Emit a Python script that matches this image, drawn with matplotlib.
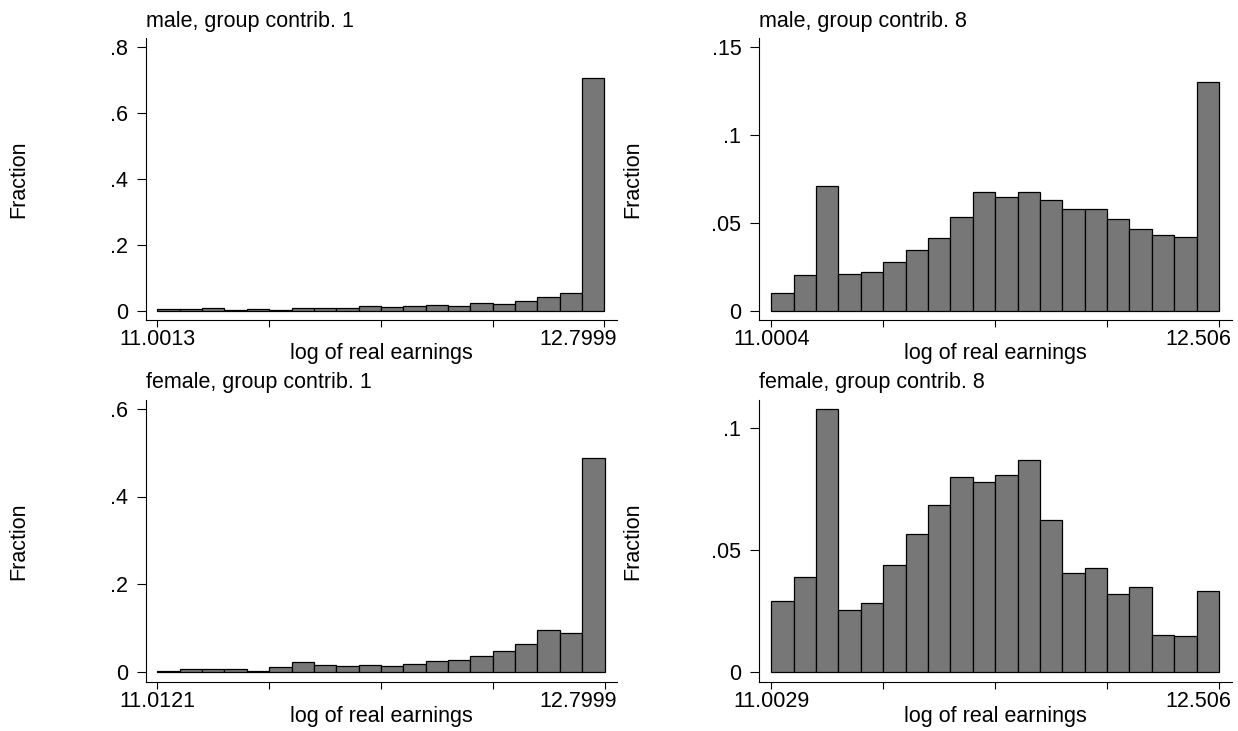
import numpy as np
import matplotlib
matplotlib.use("Agg")
import matplotlib.pyplot as plt

plt.rcParams['font.family'] = ['Liberation Sans', 'DejaVu Sans']
plt.rcParams['font.size'] = 15.5

# histogram fractions, 20 equal-width bins between min and max of log earnings
titles = ["male, group contrib. 1", "male, group contrib. 8",
          "female, group contrib. 1", "female, group contrib. 8"]

x_min = [11.0013, 11.0004, 11.0121, 11.0029]
x_max = [12.7999, 12.506, 12.7999, 12.506]

male_c1 = [0.005, 0.005, 0.009, 0.004, 0.006, 0.004, 0.010, 0.010, 0.010, 0.015,
           0.012, 0.015, 0.018, 0.016, 0.024, 0.022, 0.031, 0.042, 0.055, 0.706]
male_c8 = [0.0105, 0.0207, 0.0711, 0.0209, 0.0221, 0.0276, 0.0346, 0.0415, 0.0534, 0.0675,
           0.0650, 0.0675, 0.0629, 0.0582, 0.0582, 0.0521, 0.0464, 0.0435, 0.0420, 0.1303]
female_c1 = [0.002, 0.005, 0.006, 0.005, 0.002, 0.011, 0.021, 0.0145, 0.013, 0.0145,
             0.0115, 0.0175, 0.023, 0.027, 0.035, 0.046, 0.0626, 0.096, 0.0885, 0.4885]
female_c8 = [0.0291, 0.0389, 0.108, 0.0254, 0.0283, 0.0437, 0.0566, 0.0685, 0.0801, 0.0779,
             0.0806, 0.0869, 0.0622, 0.0407, 0.0426, 0.032, 0.0347, 0.015, 0.0144, 0.0332]
fractions = [male_c1, male_c8, female_c1, female_c8]

y_ticks = [[0, 0.2, 0.4, 0.6, 0.8], [0, 0.05, 0.1, 0.15],
           [0, 0.2, 0.4, 0.6], [0, 0.05, 0.1]]
y_ticklabels = [["0", ".2", ".4", ".6", ".8"], ["0", ".05", ".1", ".15"],
                ["0", ".2", ".4", ".6"], ["0", ".05", ".1"]]

W, H = 1238, 731

# pixel layout: axes box (left, top, right, bottom), x pixel of min/max,
# y pixel of zero and of the top tick
layout = [
    dict(box=(145.5, 38.3, 617.3, 319.5), xpx=(157.4, 604.5), ypx=(311.0, 47.3)),
    dict(box=(758.7, 38.3, 1231.7, 319.5), xpx=(771.3, 1219.0), ypx=(311.0, 47.3)),
    dict(box=(145.5, 400.0, 617.3, 681.7), xpx=(157.4, 604.5), ypx=(671.5, 409.0)),
    dict(box=(758.7, 400.0, 1231.7, 681.7), xpx=(771.3, 1219.0), ypx=(671.5, 428.3)),
]
ylabel_x = [18.5, 633.0, 18.5, 633.0]

xtick_len, xtick_pad = 5, 2   # points
px = 100 / 72

fig = plt.figure(figsize=(W / 100, H / 100), dpi=100)

for i in range(4):
    L = layout[i]
    left, top, right, bottom = L['box']
    ax = fig.add_axes([left / W, 1 - bottom / H, (right - left) / W, (bottom - top) / H])
    h = bottom - top

    lo, hi = x_min[i], x_max[i]
    edges = np.linspace(lo, hi, len(fractions[i]) + 1)
    ax.bar(edges[:-1], fractions[i], width=np.diff(edges), align='edge',
           color='#777777', edgecolor='black', linewidth=0.9)

    # limits so that the data anchors land on the chosen pixels
    pa, pb = L['xpx']
    sx = (pb - pa) / (hi - lo)
    ax.set_xlim(lo - (pa - left) / sx, hi + (right - pb) / sx)
    p0, pt = L['ypx']
    ytop = y_ticks[i][-1]
    sy = (p0 - pt) / ytop
    ax.set_ylim(-(bottom - p0) / sy, ytop + (pt - top) / sy)

    ax.set_xticks(np.linspace(lo, hi, 5))
    ax.set_xticklabels([f"{lo:g}", "", "", "", ""])
    # the max label sits flush with the end of the axis line
    ax.text(1.0, -(xtick_len + xtick_pad) * px / h, f"{hi:g}", transform=ax.transAxes,
            ha='right', va='top')
    ax.set_yticks(y_ticks[i])
    ax.set_yticklabels(y_ticklabels[i])

    for s in ['top', 'right']:
        ax.spines[s].set_visible(False)
    for s in ['left', 'bottom']:
        ax.spines[s].set_linewidth(0.8)
    ax.tick_params(axis='y', length=6.5, width=0.8, pad=6)
    ax.tick_params(axis='x', length=xtick_len, width=0.8, pad=xtick_pad)

    ax.set_ylabel("Fraction", va='center')
    ax.yaxis.set_label_coords((ylabel_x[i] - left) / (right - left), 0.5)
    ax.set_xlabel("log of real earnings", va='center')
    ax.xaxis.set_label_coords(0.5, -34.5 / h)

    ax.text(0, 1 + 11.6 / h, titles[i], transform=ax.transAxes,
            ha='left', va='baseline')

fig.savefig("out.png", dpi=100)
